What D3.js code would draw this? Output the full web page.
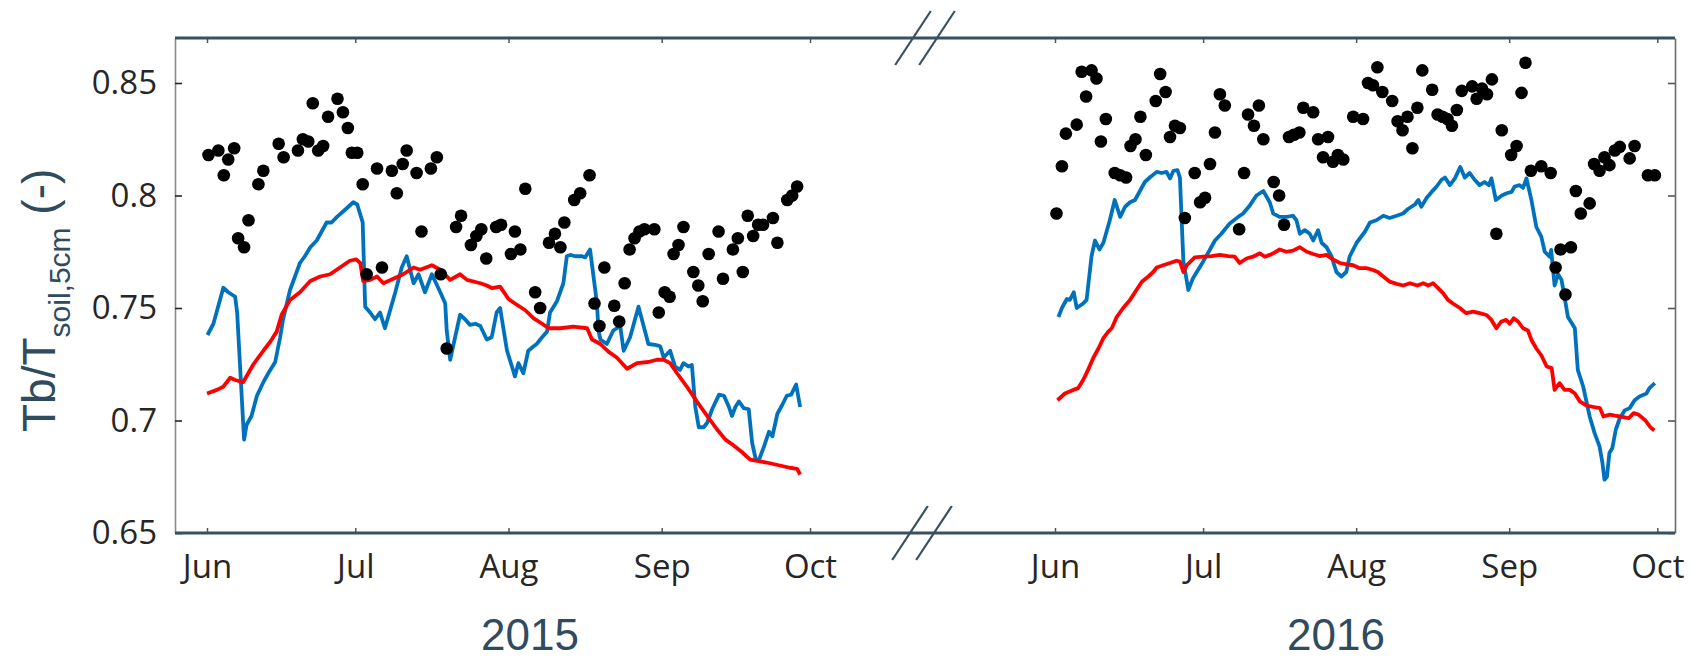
<!DOCTYPE html>
<html>
<head>
<meta charset="utf-8">
<script src="https://cdn.jsdelivr.net/npm/d3@7"></script>
<style>
  html, body { margin: 0; padding: 0; background: #ffffff; }
  svg { display: block; }
</style>
</head>
<body>
<svg id="chart" width="1698" height="660"></svg>
<script>
// ---- Data: Tb / T_soil,5cm ratio, June–September, days counted from 1 June ----
const years = [2015, 2016];
const monthLabels = ["Jun", "Jul", "Aug", "Sep", "Oct"];
const yTickValues = [0.65, 0.7, 0.75, 0.8, 0.85];
const yearLabels = ["2015", "2016"];

// observed ratio (black dots): [day, value]
const obs2015 = [
  [0.3,0.818],[2.3,0.820],[3.4,0.809],[4.3,0.816],[5.5,0.821],[6.3,0.781],[7.5,0.777],[8.4,0.789],
  [10.4,0.805],[11.4,0.811],[14.5,0.823],[15.5,0.817],[18.4,0.820],[19.4,0.825],[20.5,0.824],
  [21.4,0.841],[22.5,0.820],[23.5,0.822],[24.5,0.835],[26.4,0.843],[27.5,0.837],[28.5,0.830],
  [29.3,0.819],[30.4,0.819],[31.5,0.805],[32.3,0.765],[34.4,0.812],[35.4,0.768],[37.4,0.811],
  [38.4,0.801],[39.6,0.814],[40.4,0.820],[42.4,0.810],[43.4,0.784],[45.3,0.812],[46.5,0.817],
  [47.3,0.765],[48.5,0.732],[50.4,0.786],[51.4,0.791],[53.4,0.778],[54.5,0.782],[55.5,0.785],
  [56.5,0.772],[58.5,0.786],[59.5,0.787],[61.5,0.774],[62.3,0.784],[63.4,0.776],[64.4,0.803],
  [66.4,0.757],[67.4,0.750],[69.2,0.779],[70.4,0.783],[71.5,0.777],[72.3,0.788],[74.3,0.798],
  [75.5,0.801],[77.4,0.809],[78.4,0.752],[79.4,0.742],[80.4,0.768],[82.4,0.751],[83.4,0.744],
  [84.5,0.761],[85.5,0.776],[86.5,0.781],[87.5,0.784],[88.5,0.785],[90.5,0.785],[91.4,0.748],
  [92.6,0.757],[93.6,0.755],[94.4,0.774],[95.4,0.778],[96.4,0.786],[98.4,0.766],[99.4,0.760],
  [100.3,0.753],[101.5,0.774],[103.5,0.784],[104.4,0.763],[106.4,0.776],[107.4,0.781],
  [108.4,0.766],[109.4,0.791],[110.5,0.782],[111.5,0.787],[112.5,0.787],[114.5,0.790],
  [115.4,0.779],[117.4,0.798],[118.4,0.800],[119.4,0.804]
];
const obs2016 = [
  [0.3,0.792],[1.4,0.813],[2.2,0.8275],[4.4,0.8315],[5.4,0.855],[6.3,0.844],[7.4,0.8556],
  [8.4,0.852],[9.3,0.824],[10.3,0.834],[12.1,0.810],[13.2,0.809],[14.4,0.808],[15.3,0.822],
  [16.3,0.825],[17.3,0.835],[18.4,0.818],[20.4,0.842],[21.3,0.854],[22.4,0.846],[23.3,0.826],
  [24.3,0.831],[25.3,0.830],[26.3,0.790],[28.3,0.810],[29.4,0.797],[30.4,0.799],[31.4,0.814],
  [32.4,0.828],[33.4,0.845],[34.4,0.840],[37.3,0.785],[38.3,0.810],[39.1,0.836],[40.3,0.831],
  [41.3,0.840],[42.2,0.825],[44.3,0.806],[45.4,0.800],[46.4,0.787],[47.4,0.826],[48.4,0.827],
  [49.5,0.828],[50.3,0.839],[52.3,0.837],[53.3,0.825],[54.3,0.817],[55.3,0.826],[56.3,0.815],
  [57.3,0.818],[58.4,0.816],[60.4,0.835],[62.4,0.834],[63.4,0.850],[64.4,0.849],[65.3,0.857],
  [66.3,0.846],[68.3,0.842],[69.4,0.833],[70.4,0.829],[71.4,0.835],[72.4,0.821],[73.4,0.839],
  [74.4,0.8556],[76.4,0.847],[77.5,0.836],[78.5,0.835],[79.5,0.834],[80.4,0.831],[81.4,0.838],
  [82.4,0.8465],[84.5,0.8485],[85.4,0.843],[86.5,0.8475],[87.5,0.845],[88.5,0.8516],[89.4,0.783],
  [90.5,0.829],[92.4,0.818],[93.5,0.822],[94.5,0.8456],[95.3,0.859],[96.4,0.811],[98.5,0.813],
  [100.4,0.810],[101.4,0.768],[102.4,0.776],[103.4,0.756],[104.5,0.777],[105.5,0.802],
  [106.5,0.792],[108.3,0.7965],[109.2,0.814],[110.3,0.811],[111.3,0.817],[112.3,0.8135],
  [113.4,0.820],[114.4,0.8216],[116.4,0.8165],[117.4,0.822],[120.1,0.809],[121.5,0.809]
];

// blue series: [day, value]
const blue2015 = [
  [0.1,0.738],[1.3,0.743],[3.3,0.759],[4.3,0.757],[5.7,0.755],[6.1,0.748],[7.5,0.6915],[8.0,0.698],
  [9.0,0.702],[10.1,0.711],[11.4,0.717],[12.4,0.721],[13.8,0.726],[14.8,0.737],[15.4,0.745],
  [16.8,0.758],[17.8,0.764],[18.8,0.770],[19.8,0.773],[20.9,0.777],[22.2,0.780],[23.2,0.784],
  [24.2,0.788],[25.2,0.788],[26.3,0.7905],[27.6,0.793],[28.6,0.795],[29.6,0.797],[30.4,0.796],
  [31.5,0.788],[32.0,0.7506],[33.0,0.748],[34.0,0.745],[35.0,0.748],[36.0,0.741],[38.1,0.757],
  [39.4,0.768],[40.4,0.773],[41.8,0.761],[42.8,0.765],[44.1,0.757],[45.5,0.765],[47.2,0.757],
  [48.2,0.752],[48.5,0.740],[49.2,0.727],[51.2,0.747],[52.2,0.745],[53.2,0.7425],[54.3,0.743],
  [55.3,0.742],[56.6,0.736],[57.6,0.737],[58.6,0.748],[59.3,0.750],[60.7,0.731],[61.7,0.724],
  [62.3,0.7196],[63.0,0.7255],[64.0,0.721],[65.0,0.731],[66.1,0.733],[66.7,0.734],[67.8,0.737],
  [68.8,0.7395],[69.4,0.748],[70.8,0.753],[72.1,0.761],[72.8,0.773],[73.5,0.7736],[74.5,0.773],
  [75.9,0.773],[76.5,0.7725],[77.5,0.776],[78.2,0.764],[78.9,0.752],[79.2,0.740],[79.6,0.736],
  [80.9,0.734],[82.2,0.740],[83.6,0.742],[84.3,0.731],[85.6,0.737],[87.3,0.7506],[88.7,0.739],
  [89.3,0.734],[90.7,0.7336],[91.7,0.733],[92.4,0.728],[93.7,0.731],[94.7,0.724],[95.7,0.7225],
  [96.4,0.7255],[97.4,0.724],[98.1,0.7247],[98.8,0.706],[99.5,0.697],[100.5,0.697],[101.2,0.699],
  [102.2,0.705],[103.6,0.7115],[104.6,0.711],[105.6,0.706],[106.2,0.702],[106.9,0.706],
  [107.6,0.7085],[108.6,0.7055],[109.6,0.705],[110.3,0.690],[111.0,0.683],[111.7,0.6826],
  [112.7,0.6885],[113.7,0.695],[114.4,0.693],[115.4,0.703],[116.4,0.707],[117.3,0.711],
  [118.2,0.7115],[119.2,0.716],[120.0,0.706]
];
const blue2016 = [
  [0.7,0.746],[1.4,0.750],[2.4,0.754],[3.0,0.7536],[3.8,0.757],[4.4,0.750],[5.7,0.752],[6.4,0.7536],
  [7.4,0.773],[8.1,0.780],[9.0,0.776],[9.8,0.779],[11.1,0.789],[12.1,0.798],[13.2,0.7905],
  [14.2,0.795],[15.2,0.797],[16.2,0.798],[17.2,0.802],[18.2,0.806],[19.2,0.808],[20.6,0.8105],
  [21.6,0.810],[22.6,0.8105],[23.3,0.8076],[24.0,0.811],[24.8,0.8113],[25.3,0.808],[26.0,0.771],
  [27.0,0.758],[27.9,0.763],[29.0,0.767],[30.0,0.7706],[31.4,0.776],[32.4,0.780],[33.7,0.783],
  [35.4,0.7876],[37.1,0.7905],[38.1,0.792],[39.5,0.7957],[40.8,0.800],[42.2,0.802],[43.5,0.797],
  [44.2,0.792],[45.5,0.7905],[46.9,0.7905],[48.2,0.791],[48.9,0.789],[49.6,0.783],[50.6,0.7846],
  [51.6,0.783],[52.3,0.780],[53.3,0.7846],[54.0,0.779],[55.0,0.777],[56.0,0.773],[57.0,0.766],
  [58.0,0.764],[59.0,0.766],[59.7,0.773],[61.1,0.779],[62.8,0.784],[63.8,0.788],[65.1,0.789],
  [66.5,0.791],[67.8,0.790],[69.2,0.791],[70.5,0.792],[71.5,0.794],[72.9,0.796],[73.6,0.798],
  [74.2,0.795],[75.3,0.799],[76.3,0.8016],[77.3,0.804],[78.3,0.807],[79.0,0.808],[80.0,0.8046],
  [81.0,0.8076],[82.1,0.8127],[83.0,0.808],[84.0,0.810],[85.0,0.807],[86.0,0.8046],[87.0,0.806],
  [87.9,0.8046],[88.4,0.8076],[89.3,0.798],[90.5,0.800],[91.5,0.801],[92.5,0.8016],[93.1,0.804],
  [94.1,0.8046],[94.8,0.8034],[95.5,0.8076],[96.5,0.798],[97.5,0.786],[98.5,0.7817],[99.2,0.775],
  [100.2,0.7728],[100.5,0.7758],[101.2,0.760],[101.9,0.765],[102.6,0.7625],[103.2,0.755],
  [103.9,0.746],[105.3,0.741],[105.9,0.7225],[107.0,0.715],[108.3,0.7018],[109.3,0.6944],
  [110.3,0.6885],[110.9,0.681],[111.3,0.6737],[111.8,0.675],[112.3,0.6856],[112.9,0.6878],
  [113.6,0.696],[114.4,0.701],[115.4,0.7045],[116.4,0.7055],[117.4,0.709],[118.4,0.7107],
  [119.8,0.712],[120.4,0.7144],[121.5,0.7166]
];

// red series: [day, value]
const red2015 = [
  [0.0,0.712],[2.0,0.7136],[3.3,0.715],[4.7,0.719],[5.7,0.718],[7.3,0.717],[9.4,0.725],[11.4,0.731],
  [12.8,0.735],[14.1,0.7395],[15.1,0.747],[16.8,0.7536],[18.8,0.757],[20.9,0.762],[22.9,0.764],
  [24.9,0.765],[26.9,0.768],[28.9,0.771],[30.2,0.7716],[31.0,0.770],[31.6,0.762],[33.0,0.7625],
  [34.4,0.764],[35.7,0.761],[37.7,0.763],[39.7,0.765],[41.8,0.768],[43.1,0.767],[45.5,0.769],
  [47.2,0.767],[49.2,0.7625],[51.2,0.765],[52.6,0.7625],[55.3,0.761],[56.6,0.760],[57.7,0.7588],
  [59.3,0.7595],[61.0,0.754],[62.3,0.752],[64.4,0.749],[66.1,0.7454],[67.8,0.743],[69.1,0.741],
  [71.5,0.741],[74.1,0.7417],[76.9,0.741],[77.9,0.736],[79.6,0.734],[81.2,0.7306],[82.9,0.728],
  [85.0,0.723],[87.0,0.7255],[89.3,0.726],[91.0,0.727],[92.4,0.727],[93.7,0.7255],[95.1,0.721],
  [97.1,0.715],[99.1,0.7085],[101.2,0.702],[103.2,0.696],[104.9,0.6915],[106.5,0.689],
  [108.2,0.686],[109.9,0.6826],[111.9,0.6818],[113.9,0.681],[115.9,0.680],[117.9,0.679],
  [119.4,0.6785],[120.0,0.676]
];
const red2016 = [
  [0.5,0.709],[2.0,0.712],[3.7,0.7136],[4.7,0.7144],[5.7,0.718],[6.7,0.7225],[7.8,0.728],[8.8,0.732],
  [9.8,0.7366],[10.8,0.7395],[11.5,0.741],[12.5,0.746],[13.8,0.750],[15.2,0.7536],[16.5,0.758],
  [17.6,0.7617],[18.9,0.764],[19.9,0.766],[20.6,0.768],[21.9,0.769],[23.3,0.770],[24.6,0.771],
  [25.3,0.7706],[26.0,0.766],[26.7,0.769],[28.3,0.7725],[30.0,0.7728],[31.7,0.7731],[33.4,0.7736],
  [35.1,0.7731],[36.4,0.7728],[37.4,0.770],[38.8,0.772],[40.1,0.7728],[41.5,0.7743],[42.5,0.7728],
  [43.5,0.7736],[44.2,0.7743],[45.5,0.776],[46.9,0.775],[48.2,0.7755],[49.6,0.777],[51.0,0.775],
  [52.3,0.774],[53.6,0.7731],[55.0,0.7736],[56.3,0.7716],[57.7,0.770],[59.1,0.7694],[60.4,0.769],
  [61.7,0.7677],[63.1,0.7677],[64.4,0.7669],[65.4,0.766],[66.5,0.764],[67.8,0.7617],[69.2,0.7607],
  [70.5,0.760],[71.9,0.761],[73.4,0.760],[74.6,0.761],[75.6,0.760],[76.6,0.761],[77.6,0.7588],
  [78.6,0.7566],[79.6,0.7536],[80.6,0.752],[82.0,0.750],[83.3,0.7477],[84.7,0.7484],[86.0,0.7477],
  [87.4,0.7469],[88.4,0.7447],[89.4,0.741],[90.4,0.744],[91.4,0.7447],[92.1,0.743],[92.9,0.7454],
  [93.8,0.744],[94.8,0.741],[95.8,0.740],[96.5,0.7358],[97.5,0.732],[98.5,0.729],[99.6,0.724],
  [100.6,0.7233],[101.2,0.7136],[102.2,0.7166],[103.2,0.7136],[104.3,0.7136],[105.3,0.712],
  [106.3,0.7085],[107.7,0.7066],[109.1,0.706],[110.4,0.7055],[111.1,0.7018],[112.4,0.7026],
  [113.8,0.702],[115.2,0.7015],[116.2,0.701],[117.2,0.7033],[118.2,0.7026],[119.6,0.700],
  [120.6,0.697],[121.4,0.6956]
];

// ---- Layout ----
const frame = { left: 175, right: 1675, top: 38, bottom: 533 };
const panelRanges = [[207, 810], [1055, 1657.3]];
const yearLabelX = [530, 1336];
const ink = "#38505f";
const textInk = "#2f4b5e";
const tickInk = "#262626";

const svg = d3.select("#chart");

const y = d3.scaleLinear().domain([0.65, 0.87]).range([frame.bottom, frame.top]);

const panels = years.map((yr, i) => ({
  year: yr,
  label: yearLabels[i],
  obs: i === 0 ? obs2015 : obs2016,
  blue: i === 0 ? blue2015 : blue2016,
  red: i === 0 ? red2015 : red2016,
  x: d3.scaleUtc()
    .domain([new Date(Date.UTC(yr, 5, 1)), new Date(Date.UTC(yr, 9, 1))])
    .range(panelRanges[i]),
  labelX: yearLabelX[i]
}));

const dayToDate = (yr, d) => new Date(Date.UTC(yr, 5, 1) + d * 864e5);

// ---- Axes ----
// left y axis with labels
const yAxisLeft = svg.append("g")
  .attr("transform", `translate(${frame.left},0)`)
  .call(d3.axisLeft(y).tickValues(yTickValues).tickFormat(d => String(d))
    .tickSizeInner(-7).tickSizeOuter(0).tickPadding(18));
yAxisLeft.select(".domain").attr("stroke", "#8a8a8a").attr("stroke-width", 1.6);
yAxisLeft.selectAll(".tick line").attr("stroke", tickInk).attr("stroke-width", 1.6);
yAxisLeft.selectAll(".tick text")
  .attr("fill", tickInk)
  .style("font-family", "'Open Sans', sans-serif")
  .style("font-size", "33px");

// right y axis, ticks only
const yAxisRight = svg.append("g")
  .attr("transform", `translate(${frame.right},0)`)
  .call(d3.axisRight(y).tickValues(yTickValues).tickFormat("")
    .tickSizeInner(-7).tickSizeOuter(0));
yAxisRight.select(".domain").attr("stroke", "#6a6a6a").attr("stroke-width", 1.6);
yAxisRight.selectAll(".tick line").attr("stroke", "#555").attr("stroke-width", 1.6);

// month ticks on bottom (labelled) and top (unlabelled) for each panel
panels.forEach(p => {
  const months = monthLabels.map((_, k) => new Date(Date.UTC(p.year, 5 + k, 1)));
  const fmt = d3.utcFormat("%b");

  const bottom = svg.append("g")
    .attr("transform", `translate(0,${frame.bottom})`)
    .call(d3.axisBottom(p.x).tickValues(months).tickFormat(fmt)
      .tickSizeInner(-5).tickSizeOuter(0).tickPadding(21.5));
  bottom.select(".domain").remove();
  bottom.selectAll(".tick line").attr("stroke", "#555").attr("stroke-width", 1.5);
  bottom.selectAll(".tick text")
    .attr("fill", tickInk)
    .style("font-family", "'Open Sans', sans-serif")
    .style("font-size", "33px");

  const top = svg.append("g")
    .attr("transform", `translate(0,${frame.top})`)
    .call(d3.axisTop(p.x).tickValues(months).tickFormat("")
      .tickSizeInner(-5).tickSizeOuter(0));
  top.select(".domain").remove();
  top.selectAll(".tick line").attr("stroke", "#555").attr("stroke-width", 1.5);
});

// frame lines across both panels
[frame.top, frame.bottom].forEach(yy => {
  svg.append("line")
    .attr("x1", frame.left).attr("x2", frame.right)
    .attr("y1", yy).attr("y2", yy)
    .attr("stroke", ink).attr("stroke-width", 3);
});

// axis-break marks
const slope = 0.66, half = 27;
[[frame.top, [913, 937]], [frame.bottom, [910, 934]]].forEach(([yy, xs]) => {
  xs.forEach(cx => {
    svg.append("line")
      .attr("x1", cx - slope * half).attr("y1", yy + half)
      .attr("x2", cx + slope * half).attr("y2", yy - half)
      .attr("stroke", ink).attr("stroke-width", 2.2);
  });
});

// ---- Series ----
panels.forEach(p => {
  const line = d3.line()
    .x(d => p.x(dayToDate(p.year, d[0])))
    .y(d => y(d[1]));

  svg.append("path").datum(p.blue)
    .attr("d", line)
    .attr("fill", "none").attr("stroke", "#0072BD")
    .attr("stroke-width", 3.8).attr("stroke-linejoin", "round");

  svg.append("path").datum(p.red)
    .attr("d", line)
    .attr("fill", "none").attr("stroke", "#FF0000")
    .attr("stroke-width", 3.8).attr("stroke-linejoin", "round");

  svg.append("g").selectAll("circle").data(p.obs).join("circle")
    .attr("cx", d => p.x(dayToDate(p.year, d[0])))
    .attr("cy", d => y(d[1]))
    .attr("r", 6.3)
    .attr("fill", "#000");

  svg.append("text")
    .attr("x", p.labelX).attr("y", 650)
    .attr("text-anchor", "middle")
    .attr("fill", textInk)
    .style("font-family", "'Liberation Sans', Arial, sans-serif")
    .style("font-size", "44px")
    .text(p.label);
});

// ---- Y axis title ----
const title = svg.append("text")
  .attr("transform", "translate(55,432) rotate(-90)")
  .attr("fill", textInk)
  .style("font-family", "'Liberation Sans', Arial, sans-serif")
  .style("font-size", "46px");
title.append("tspan").text("Tb/T");
title.append("tspan").attr("dy", 15).style("font-size", "30px").text("soil,5cm");
title.append("tspan").attr("dy", -15).text(" (-)");
</script>
</body>
</html>
